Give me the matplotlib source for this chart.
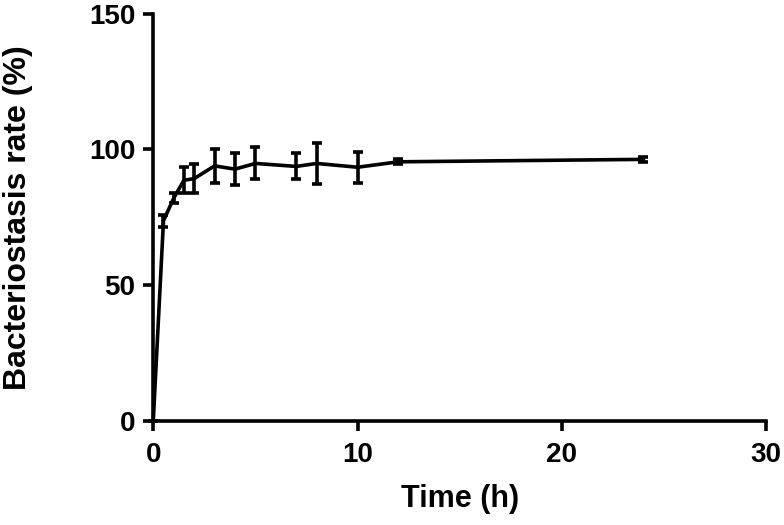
import matplotlib
matplotlib.use("Agg")
import matplotlib.pyplot as plt

time_h = [0, 0.5, 1, 1.5, 2, 3, 4, 5, 7, 8, 10, 12, 24]
rate = [0, 73.7, 82.0, 88.6, 89.2, 93.9, 92.7, 94.8, 93.7, 94.8, 93.4, 95.4, 96.3]
err = [0, 2.2, 1.8, 4.8, 5.4, 6.4, 5.8, 5.9, 4.8, 7.4, 5.7, 0.9, 1.0]

xticks = [0, 10, 20, 30]
yticks = [0, 50, 100, 150]

plt.rcParams['font.family'] = ['Liberation Sans', 'DejaVu Sans']
plt.rcParams['font.weight'] = 'bold'

fig = plt.figure(figsize=(7.84, 5.25), dpi=100)
ax = fig.add_axes([0.1955, 0.1987, 0.977 - 0.1955, 0.974 - 0.1987])

ax.errorbar(time_h, rate, yerr=err, color='black', lw=2.6, elinewidth=2.6,
            capsize=3.5, capthick=2.6, clip_on=False, zorder=3)

ax.set_xlim(0, 30)
ax.set_ylim(0, 150)
ax.set_xticks(xticks)
ax.set_yticks(yticks)
ax.spines['top'].set_visible(False)
ax.spines['right'].set_visible(False)
for s in ('left', 'bottom'):
    ax.spines[s].set_linewidth(2.6)
ax.tick_params(axis='both', direction='out', length=7, width=2.6,
               labelsize=20)
ax.tick_params(axis='x', pad=8)
ax.tick_params(axis='y', pad=6)
for lab in ax.get_xticklabels() + ax.get_yticklabels():
    lab.set_fontweight('bold')

ax.set_xlabel('Time (h)', fontsize=22, fontweight='bold', labelpad=12)
ax.set_ylabel('Bacteriostasis rate (%)', fontsize=23, fontweight='bold', labelpad=40)

fig.savefig('out.png', dpi=100)
